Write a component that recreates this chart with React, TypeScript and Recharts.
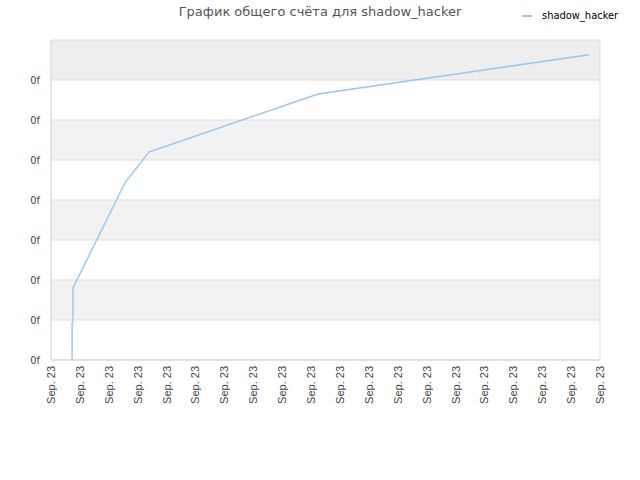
import {
  LineChart,
  Line,
  XAxis,
  YAxis,
  ReferenceArea,
  ReferenceLine,
} from "recharts";

const seriesName = "shadow_hacker";
const title = "График общего счёта для shadow_hacker";
const xValues = [0.73, 0.73, 0.76, 0.76, 2.56, 3.39, 9.24, 18.62];
const yValues = [0, 0.93, 0.95, 1.8, 4.43, 5.2, 6.65, 7.63];
const xTicks = [0, 1, 2, 3, 4, 5, 6, 7, 8, 9, 10, 11, 12, 13, 14, 15, 16, 17, 18, 19];
const xTickLabel = "Sep. 23";
const yTicks = [0, 1, 2, 3, 4, 5, 6, 7];
const yTickLabel = "0f";
const yMax = 8;

const data = xValues.map((x, i) => ({ x, score: yValues[i] }));

const bandFill = (i: number) =>
  i === yMax - 1 ? "#eeeeee" : i % 2 === 1 ? "#f2f2f2" : "#ffffff";

const XTick = (props: any) => {
  const { x, y } = props;
  return (
    <g transform={`translate(${x},${y})`}>
      <text
        x={0}
        y={0}
        dy={4}
        textAnchor="end"
        transform="rotate(-90)"
        fontFamily="Liberation Sans, Arial, sans-serif"
        fontSize={11}
        fill="#444"
      >
        {xTickLabel}
      </text>
    </g>
  );
};

export default function App() {
  return (
    <div
      style={{
        position: "fixed",
        left: 0,
        top: 0,
        width: 640,
        height: 480,
        background: "#fff",
      }}
    >
      <div
        style={{
          position: "absolute",
          top: 4,
          left: 0,
          width: 640,
          textAlign: "center",
          fontFamily: "DejaVu Sans, sans-serif",
          fontSize: 13,
          color: "#555",
        }}
      >
        {title}
      </div>
      <div
        style={{
          position: "absolute",
          top: 9,
          left: 522,
          display: "flex",
          alignItems: "center",
          fontFamily: "DejaVu Sans Condensed, DejaVu Sans, sans-serif",
          fontSize: 11,
          color: "#000",
        }}
      >
        <span
          style={{
            display: "inline-block",
            width: 10,
            height: 2,
            background: "#99c5f4",
            marginRight: 10,
          }}
        />
        {seriesName}
      </div>
      <LineChart
        width={640}
        height={480}
        data={data}
        margin={{ top: 40, right: 40, left: 0, bottom: 0 }}
      >
        {yTicks.map((t) => (
          <ReferenceArea
            key={`band-${t}`}
            x1={0}
            x2={19}
            y1={t}
            y2={t + 1}
            fill={bandFill(t)}
            fillOpacity={1}
            stroke="none"
          />
        ))}
        {yTicks.map((t) => (
          <ReferenceLine key={`grid-${t}`} y={t} stroke="#dddddd" />
        ))}
        <ReferenceArea
          x1={0}
          x2={19}
          y1={0}
          y2={yMax}
          fill="none"
          stroke="#dddddd"
        />
        <XAxis
          dataKey="x"
          type="number"
          domain={[0, 19]}
          ticks={xTicks}
          interval={0}
          height={120}
          tickLine={false}
          axisLine={{ stroke: "#dddddd" }}
          tickSize={0}
          tickMargin={6}
          tick={<XTick />}
        />
        <YAxis
          type="number"
          domain={[0, yMax]}
          ticks={yTicks}
          interval={0}
          width={51}
          tickLine={false}
          axisLine={{ stroke: "#dddddd" }}
          tickSize={6}
          tickMargin={5}
          tickFormatter={() => yTickLabel}
          tick={{
            fontFamily: "DejaVu Sans Condensed, DejaVu Sans, sans-serif",
            fontSize: 11,
            fill: "#444",
          }}
        />
        <Line
          type="linear"
          dataKey="score"
          name={seriesName}
          stroke="#99c5f4"
          strokeWidth={1.4}
          dot={false}
          isAnimationActive={false}
        />
      </LineChart>
    </div>
  );
}
